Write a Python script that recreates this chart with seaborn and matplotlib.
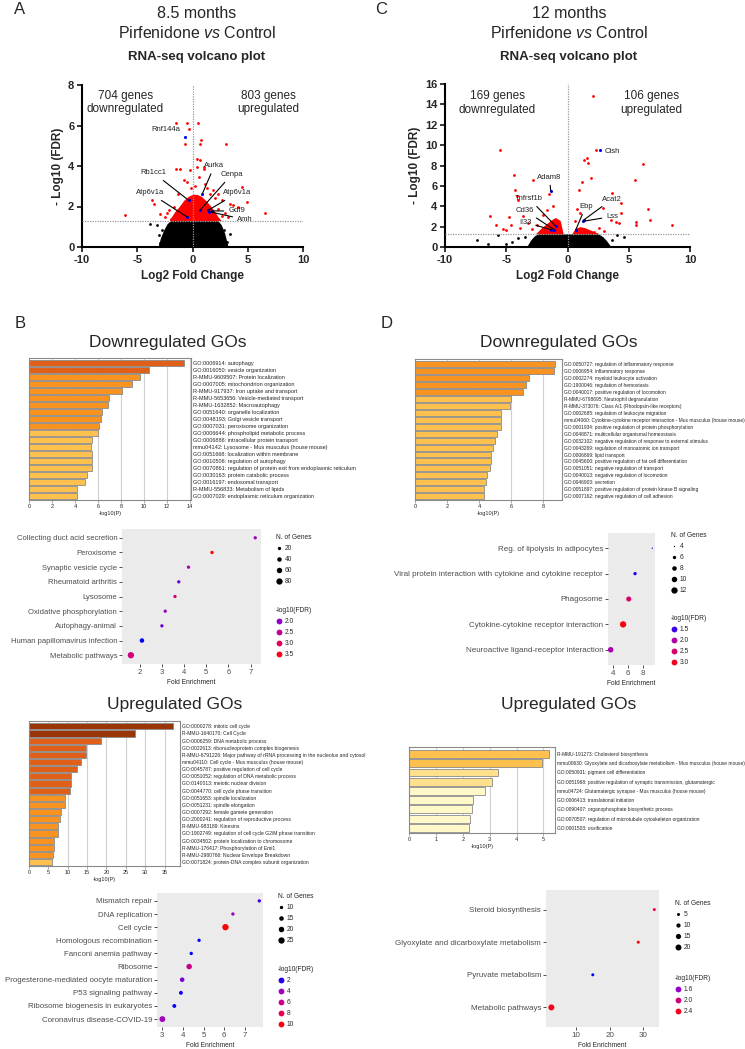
import numpy as np
import pandas as pd
import seaborn as sns
import matplotlib.pyplot as plt
from matplotlib.colors import LinearSegmentedColormap, Normalize
from matplotlib.lines import Line2D

# ---------------- data ----------------
# Panel A volcano (8.5 months)
cloudA_x = [-3.1, -2.9, -2.6, -2.3, -2.0, 2.3, 2.6, 2.9, 3.2]
cloudA_top = [0.05, 0.45, 0.85, 1.15, 1.3, 1.3, 1.1, 0.7, 0.05]
redzA_x = [-2.1, -1.9, -1.6, -1.2, -0.8, -0.4, 0.0, 0.4, 0.8, 1.2, 1.6, 2.0, 2.3, 2.6]
redzA_top = [1.3, 1.5, 1.75, 2.0, 2.3, 2.5, 2.6, 2.6, 2.5, 2.3, 2.05, 1.75, 1.5, 1.3]
redA_x = [-1.5, -0.5, 0.54, -0.36, -0.66, 0.78, 0.7, 3.04, 0.4, 0.7, 0.4, 1.05, -1.5, -1.1,
          -0.27, 1.05, 0.63, -0.8, -0.5, 4.45, 4.9, 3.7, 2.35, 1.9, 2.65, 3.4, 4.15, 6.55,
          -6.13, -3.67, -3.46, -2.92, -2.17, -1.71, -1.95, 1.3, 1.6, 2.0, 2.9, 3.2, -2.5,
          -2.3, -1.3, 1.1, 0.2, -0.1, 2.3, 2.7]
redA_y = [6.1, 6.1, 6.1, 5.83, 5.1, 5.3, 5.1, 5.1, 4.37, 4.3, 3.96, 3.96, 3.85, 3.85,
          3.8, 3.85, 3.47, 3.3, 3.2, 2.97, 2.23, 2.06, 2.64, 2.8, 2.31, 2.1, 1.98, 1.68,
          1.57, 2.31, 2.11, 1.65, 1.82, 1.98, 1.4, 2.9, 2.6, 2.4, 1.7, 1.5, 1.5,
          1.7, 2.6, 3.1, 3.0, 2.9, 1.9, 1.55]
blackA_x = [-3.82, -3.2, -2.77, -2.77, -2.9, 2.86, 3.4, 2.5, 3.1, -3.0]
blackA_y = [1.16, 1.07, 0.83, 0.41, 0.2, 0.83, 0.66, 0.33, 0.25, 0.6]
genesA = ["Rnf144a", "Rb1cc1", "Atp6v1a", "Aurka", "Cenpa", "Atp6v1a", "Gdf9", "Amh"]
genesA_fc = [-0.66, -0.36, -0.5, 0.9, 0.69, 1.44, 1.74, 1.5]
genesA_fdr = [5.45, 2.31, 1.49, 2.64, 1.82, 1.82, 1.78, 1.75]
countsA = ["704 genes\ndownregulated", "803 genes\nupregulated"]

# Panel C volcano (12 months)
cloudC_x = [-3.3, -3.0, -2.7, -2.4, 2.5, 2.9, 3.2, 3.5]
cloudC_top = [0.1, 0.7, 1.1, 1.3, 1.3, 1.0, 0.6, 0.1]
redzC_x = [-2.6, -2.2, -1.8, -1.4, -1.0, -0.6, -0.35, 0.35, 0.6, 1.0, 1.4, 1.8, 2.2, 2.6]
redzC_top = [1.3, 1.8, 2.2, 2.6, 2.9, 2.6, 1.3, 1.3, 1.8, 2.0, 1.9, 1.7, 1.5, 1.3]
redC_x = [2.12, -5.48, 2.3, 1.57, 1.36, 1.68, 6.19, -4.34, -2.8, 1.9, 1.17, 5.48, -1.47,
          -4.28, 0.92, 3.64, 4.34, -4.14, -4.07, 2.9, 6.6, 4.34, -6.32, -4.78, -3.66, 6.73,
          5.62, 5.62, 8.55, -5.83, -5.29, 3.53, 3.93, 4.2, -3.2, -2.9, -3.9, -2.5, -2.0,
          -1.7, -1.2, 0.8, 1.0, 2.6, 3.0, -5.0, -4.6, 0.6, 2.2]
redC_y = [14.87, 9.48, 9.48, 8.73, 8.56, 8.24, 8.14, 7.09, 6.6, 6.76, 6.34, 6.6, 5.23,
          5.56, 5.62, 5.29, 4.31, 4.97, 4.58, 3.82, 3.73, 3.33, 3.07, 2.94, 3.0, 2.61,
          2.42, 2.19, 2.12, 2.19, 1.76, 2.68, 2.42, 2.35, 2.4, 1.8, 1.9, 2.2, 3.1,
          3.6, 4.0, 3.7, 3.3, 1.9, 1.6, 1.7, 2.2, 2.6, 1.5]
blackC_x = [-7.38, -6.51, -5.7, -4.07, -4.5, 4.07, 4.61, 3.26, -3.5, 3.6, -5.0]
blackC_y = [0.72, 0.33, 1.21, 0.88, 0.5, 1.21, 0.95, 0.23, 1.0, 0.7, 0.3]
genesC = ["Cish", "Adam8", "Tnfrsf1b", "Cd36", "Il33", "Ebp", "Acat2", "Lss"]
genesC_fc = [2.63, -1.36, -0.95, -1.09, -1.36, 0.68, 1.36, 1.25]
genesC_fdr = [9.48, 5.46, 2.03, 1.7, 1.7, 1.7, 2.68, 2.52]
countsC = ["169 genes\ndownregulated", "106 genes\nupregulated"]

# Panel B bar charts (Metascape)
bd_terms = ["GO:0006914: autophagy", "GO:0016050: vesicle organization",
            "R-MMU-9609507: Protein localization", "GO:0007005: mitochondrion organization",
            "R-MMU-917937: Iron uptake and transport", "R-MMU-5653656: Vesicle-mediated transport",
            "R-MMU-1632852: Macroautophagy", "GO:0051640: organelle localization",
            "GO:0048193: Golgi vesicle transport", "GO:0007031: peroxisome organization",
            "GO:0006644: phospholipid metabolic process", "GO:0006886: intracellular protein transport",
            "mmu04142: Lysosome - Mus musculus (house mouse)", "GO:0051668: localization within membrane",
            "GO:0010506: regulation of autophagy",
            "GO:0070861: regulation of protein exit from endoplasmic reticulum",
            "GO:0030163: protein catabolic process", "GO:0016197: endosomal transport",
            "R-MMU-556833: Metabolism of lipids", "GO:0007029: endoplasmic reticulum organization"]
bd_logp = [13.5, 10.46, 9.68, 9.0, 8.06, 7.0, 6.85, 6.36, 6.27, 6.1,
           5.97, 5.5, 5.43, 5.46, 5.46, 5.5, 5.06, 4.86, 4.22, 4.16]

bu_terms = ["GO:0000278: mitotic cell cycle", "R-MMU-1640170: Cell Cycle",
            "GO:0006259: DNA metabolic process", "GO:0022613: ribonucleoprotein complex biogenesis",
            "R-MMU-6791226: Major pathway of rRNA processing in the nucleolus and cytosol",
            "mmu04110: Cell cycle - Mus musculus (house mouse)",
            "GO:0045787: positive regulation of cell cycle", "GO:0051052: regulation of DNA metabolic process",
            "GO:0140013: meiotic nuclear division", "GO:0044770: cell cycle phase transition",
            "GO:0051653: spindle localization", "GO:0051231: spindle elongation",
            "GO:0007292: female gamete generation", "GO:2000241: regulation of reproductive process",
            "R-MMU-983189: Kinesins", "GO:1902749: regulation of cell cycle G2/M phase transition",
            "GO:0034502: protein localization to chromosome", "R-MMU-176417: Phosphorylation of Emi1",
            "R-MMU-2980766: Nuclear Envelope Breakdown",
            "GO:0071824: protein-DNA complex subunit organization"]
bu_logp = [37.2, 27.3, 18.7, 14.8, 14.6, 13.4, 12.4, 10.9, 10.9, 10.6,
           9.4, 9.4, 8.2, 7.9, 7.6, 7.5, 6.5, 6.4, 6.1, 5.9]

# Panel D bar charts
dd_terms = ["GO:0050727: regulation of inflammatory response", "GO:0006954: inflammatory response",
            "GO:0002274: myeloid leukocyte activation", "GO:1900046: regulation of hemostasis",
            "GO:0040017: positive regulation of locomotion", "R-MMU-6798695: Neutrophil degranulation",
            "R-MMU-373076: Class A/1 (Rhodopsin-like receptors)",
            "GO:0002685: regulation of leukocyte migration",
            "mmu04060: Cytokine-cytokine receptor interaction - Mus musculus (house mouse)",
            "GO:0001934: positive regulation of protein phosphorylation",
            "GO:0048871: multicellular organismal homeostasis",
            "GO:0032102: negative regulation of response to external stimulus",
            "GO:0043269: regulation of monoatomic ion transport", "GO:0006869: lipid transport",
            "GO:0045600: positive regulation of fat cell differentiation",
            "GO:0051051: negative regulation of transport", "GO:0040013: negative regulation of locomotion",
            "GO:0046903: secretion", "GO:0051897: positive regulation of protein kinase B signaling",
            "GO:0007162: negative regulation of cell adhesion"]
dd_logp = [8.71, 8.65, 7.1, 6.93, 6.72, 5.98, 5.91, 5.39, 5.39, 5.37,
           5.1, 4.96, 4.85, 4.73, 4.73, 4.67, 4.48, 4.44, 4.3, 4.3]

du_terms = ["R-MMU-191273: Cholesterol biosynthesis",
            "mmu00630: Glyoxylate and dicarboxylate metabolism - Mus musculus (house mouse)",
            "GO:0050931: pigment cell differentiation",
            "GO:0051968: positive regulation of synaptic transmission, glutamatergic",
            "mmu04724: Glutamatergic synapse - Mus musculus (house mouse)",
            "GO:0006413: translational initiation", "GO:0090407: organophosphate biosynthetic process",
            "GO:0070507: regulation of microtubule cytoskeleton organization", "GO:0001503: ossification"]
du_logp = [5.19, 4.96, 3.32, 3.08, 2.82, 2.38, 2.33, 2.26, 2.23]

# KEGG dot plots
kbd_terms = ["Collecting duct acid secretion", "Peroxisome", "Synaptic vesicle cycle",
             "Rheumatoid arthritis", "Lysosome", "Oxidative phosphorylation", "Autophagy-animal",
             "Human papillomavirus infection", "Metabolic pathways"]
kbd_fe = [7.21, 5.26, 4.2, 3.76, 3.59, 3.15, 3.0, 2.1, 1.6]
kbd_n = [6, 18, 13, 12, 16, 14, 14, 40, 90]
kbd_fdr = [2.1, 3.7, 2.2, 1.9, 2.8, 2.1, 1.9, 1.5, 2.75]

kbu_terms = ["Mismatch repair", "DNA replication", "Cell cycle", "Homologous recombination",
             "Fanconi anemia pathway", "Ribosome", "Progesterone-mediated oocyte maturation",
             "P53 signaling pathway", "Ribosome biogenesis in eukaryotes", "Coronavirus disease-COVID-19"]
kbu_fe = [7.7, 6.42, 6.06, 4.78, 4.4, 4.3, 3.96, 3.9, 3.58, 3.0]
kbu_n = [6, 9, 27, 8, 9, 20, 15, 12, 12, 22]
kbu_fdr = [2.5, 3.8, 10.5, 1.6, 1.5, 6.0, 3.3, 1.7, 1.6, 4.0]

kdd_terms = ["Reg. of lipolysis in adipocytes",
             "Viral protein interaction with cytokine and cytokine receptor", "Phagosome",
             "Cytokine-cytokine receptor interaction", "Neuroactive ligand-receptor interaction"]
kdd_fe = [9.3, 6.99, 6.15, 5.39, 3.73]
kdd_n = [4, 6, 9, 13, 10]
kdd_fdr = [1.35, 1.4, 2.5, 3.1, 1.95]

kdu_terms = ["Steroid biosynthesis", "Glyoxylate and dicarboxylate metabolism",
             "Pyruvate metabolism", "Metabolic pathways"]
kdu_fe = [33.4, 28.6, 15.0, 2.6]
kdu_n = [3, 5, 3, 21]
kdu_fdr = [2.3, 2.55, 1.3, 2.45]

# ---------------- style ----------------
sns.set_style("white")
plt.rcParams['font.family'] = ['Liberation Sans', 'DejaVu Sans']
plt.rcParams['mathtext.fontset'] = 'custom'
plt.rcParams['mathtext.rm'] = 'Liberation Sans'
plt.rcParams['mathtext.it'] = 'Liberation Sans:italic'
plt.rcParams['axes.unicode_minus'] = False

W, H = 745, 1049
fig = plt.figure(figsize=(W / 100, H / 100), dpi=100)
fig.patch.set_facecolor('white')

fdr_cmap = LinearSegmentedColormap.from_list(
    "fdr", [(0, 0, 1), (154/255, 0, 195/255), (201/255, 0, 136/255), (231/255, 0, 79/255), (1, 0, 0)])
bar_bins = [3, 4, 6, 10, 20]
bar_shades = ['#FFF8C8', '#FFE08C', '#FFC14E', '#F8931F', '#E0601A', '#9A3508']


def add_ax(x0, y0, x1, y1):
    return fig.add_axes([x0 / W, 1 - y1 / H, (x1 - x0) / W, (y1 - y0) / H])


def ftext(x, y, s, **kw):
    fig.text(x / W, 1 - y / H, s, **kw)


def draw_volcano(ax, cloud_x, cloud_top, redz_x, redz_top, red_x, red_y, blk_x, blk_y,
                 g_fc, g_fdr, ymax):
    ax.fill_between(cloud_x, 0, cloud_top, color='black', lw=0, zorder=1)
    ax.fill_between(redz_x, 1.3, redz_top, color='red', lw=0, zorder=1)
    sns.scatterplot(x=blk_x, y=blk_y, color='black', s=4, linewidth=0, ax=ax, zorder=2)
    sns.scatterplot(x=red_x, y=red_y, color='red', s=4, linewidth=0, ax=ax, zorder=2)
    sns.scatterplot(x=g_fc, y=g_fdr, color='blue', s=5, linewidth=0, ax=ax, zorder=4)
    ax.axhline(1.3, color='#999999', ls=(0, (1, 1)), lw=0.9, zorder=3)
    ax.axvline(0, color='#999999', ls=(0, (1, 1)), lw=0.9, zorder=3)
    ax.set_xlim(-10, 10)
    ax.set_ylim(0, ymax)
    ax.set_xticks([-10, -5, 0, 5, 10])
    ax.set_yticks(np.arange(0, ymax + 1, 2))
    sns.despine(ax=ax)
    for sp in ['left', 'bottom']:
        ax.spines[sp].set_linewidth(1.5)
        ax.spines[sp].set_color('black')
    ax.tick_params(direction='out', length=3.5, width=1.3, labelsize=8, pad=2,
                   left=True, bottom=True)
    for lab in ax.get_xticklabels() + ax.get_yticklabels():
        lab.set_fontweight('bold')
    ax.set_xlabel('Log2 Fold Change', fontsize=8.5, fontweight='bold', labelpad=4)
    ax.set_ylabel('- Log10 (FDR)', fontsize=8.5, fontweight='bold', labelpad=3)


def label_gene(ax, name, pt, txt, line=True):
    ax.annotate(name, xy=pt, xytext=txt, fontsize=5.5, ha='center', va='center', color='#222222',
                arrowprops=dict(arrowstyle='-', color='black', lw=0.8, shrinkA=1, shrinkB=0)
                if line else None, zorder=5)


def draw_bars(ax, terms, logp, xmax, xticks, fs):
    colors = [bar_shades[np.searchsorted(bar_bins, v, side='right')] for v in logp]
    sns.barplot(x=logp, y=terms, hue=terms, palette=dict(zip(terms, colors)), legend=False,
                orient='h', width=0.85, saturation=1, edgecolor='#8a8a8a', linewidth=0.6,
                ax=ax, zorder=2)
    ax.set_xlim(0, xmax)
    ax.set_xticks(xticks)
    ax.set_ylim(len(terms) - 0.45, -0.75)
    ax.yaxis.tick_right()
    ax.tick_params(axis='y', length=0, labelsize=fs, pad=1.5)
    ax.tick_params(axis='x', length=2, labelsize=4, width=0.5, color='#888888', pad=1, bottom=True)
    ax.grid(axis='x', color='#d0d0d0', lw=0.8)
    ax.set_axisbelow(True)
    for sp in ax.spines.values():
        sp.set_color('#8a8a8a')
        sp.set_linewidth(0.8)
    ax.set_ylabel('')
    ax.set_xlabel('-log10(P)', fontsize=4, labelpad=1.5)


def draw_dots(ax, terms, fe, ngenes, fdr, fdr_norm, size_norm, sizes, xlim, xticks, fs):
    df = pd.DataFrame({'term': terms, 'fe': fe, 'n': ngenes, 'fdr': fdr})
    sns.scatterplot(data=df, x='fe', y='term', hue='fdr', size='n', palette=fdr_cmap,
                    hue_norm=fdr_norm, sizes=sizes, size_norm=size_norm, legend=False,
                    linewidth=0, ax=ax, zorder=3)
    ax.set_facecolor('#EBEBEB')
    ax.set_xlim(*xlim)
    ax.set_xticks(xticks)
    ax.set_ylim(len(terms) - 0.4, -0.6)
    for sp in ax.spines.values():
        sp.set_visible(False)
    ax.tick_params(length=2, width=0.6, color='#333333', labelsize=fs, labelcolor='#4D4D4D',
                   pad=1.5, left=True, bottom=True)
    ax.set_ylabel('')
    ax.set_xlabel('Fold Enrichment', fontsize=4.8, labelpad=2)


def dot_legends(ax, n_vals, f_vals, fdr_norm, size_norm, sizes, x, y_size, y_col):
    def s_of(n):
        return sizes[0] + (n - size_norm[0]) / (size_norm[1] - size_norm[0]) * (sizes[1] - sizes[0])
    nh = [Line2D([], [], ls='', marker='o', color='black', markeredgewidth=0,
                 markersize=np.sqrt(max(s_of(n), 0.5))) for n in n_vals]
    norm = Normalize(*fdr_norm)
    ch = [Line2D([], [], ls='', marker='o', color=fdr_cmap(norm(v)), markeredgewidth=0,
                 markersize=4.2) for v in f_vals]
    common = dict(loc='upper left', bbox_transform=fig.transFigure, frameon=False, fontsize=4.8,
                  title_fontsize=4.8, handlelength=0.8, handletextpad=0.5, labelspacing=0.6,
                  borderaxespad=0, borderpad=0)
    leg1 = ax.legend(nh, [str(n) for n in n_vals], title='N. of Genes',
                     bbox_to_anchor=(x / W, 1 - y_size / H), **common)
    leg1._legend_box.align = 'left'
    ax.add_artist(leg1)
    leg2 = ax.legend(ch, [str(v) for v in f_vals], title='-log10(FDR)',
                     bbox_to_anchor=(x / W, 1 - y_col / H), **common)
    leg2._legend_box.align = 'left'


# ---------------- panel A ----------------
axA = add_ax(82, 85, 303, 247)
draw_volcano(axA, cloudA_x, cloudA_top, redzA_x, redzA_top, redA_x, redA_y, blackA_x, blackA_y,
             genesA_fc, genesA_fdr, 8)
txtA = [(-2.4, 5.78), (-3.52, 3.66), (-3.88, 2.67), (1.98, 4.01), (3.55, 3.58), (4.06, 2.67),
        (4.0, 1.78), (4.75, 1.35)]
for i, g in enumerate(genesA):
    label_gene(axA, g, (genesA_fc[i], genesA_fdr[i]), txtA[i], line=(i != 0))
axA.text(-6.1, 7.15, countsA[0], ha='center', va='center', fontsize=8.5, linespacing=1.15)
axA.text(6.85, 7.15, countsA[1], ha='center', va='center', fontsize=8.5, linespacing=1.15)

# ---------------- panel C ----------------
axC = add_ax(445, 84, 690, 247)
draw_volcano(axC, cloudC_x, cloudC_top, redzC_x, redzC_top, redC_x, redC_y, blackC_x, blackC_y,
             genesC_fc, genesC_fdr, 16)
txtC = [(3.66, 9.35), (-1.49, 6.86), (-3.12, 4.74), (-3.47, 3.59), (-3.47, 2.45), (1.49, 3.99),
        (3.66, 4.71), (3.66, 3.0)]
for i, g in enumerate(genesC):
    label_gene(axC, g, (genesC_fc[i], genesC_fdr[i]), txtC[i], line=(i != 0))
axC.text(-5.75, 14.15, countsC[0], ha='center', va='center', fontsize=8.5, linespacing=1.15)
axC.text(6.87, 14.15, countsC[1], ha='center', va='center', fontsize=8.5, linespacing=1.15)

# titles
for cx, months in [(197, '8.5 months'), (569, '12 months')]:
    ftext(cx, 14, months, ha='center', va='center', fontsize=11.5)
    ftext(cx, 33, r'Pirfenidone $\it{vs}$ Control', ha='center', va='center', fontsize=11.5)
    ftext(cx, 57, 'RNA-seq volcano plot', ha='center', va='center', fontsize=9.5, fontweight='bold')

# ---------------- panel B ----------------
ax = add_ax(29, 358, 191, 500)
draw_bars(ax, bd_terms, bd_logp, 14.1, np.arange(0, 15, 2), 3.95)
ax = add_ax(29, 721, 180, 866)
draw_bars(ax, bu_terms, bu_logp, 39, np.arange(0, 36, 5), 3.6)

ax = add_ax(122, 529, 261, 664)
draw_dots(ax, kbd_terms, kbd_fe, kbd_n, kbd_fdr, (1.5, 3.7), (20, 80), (5.7, 20.5),
          (1.2, 7.47), [2, 3, 4, 5, 6, 7], 5.5)
dot_legends(ax, [20, 40, 60, 80], [2.0, 2.5, 3.0, 3.5], (1.5, 3.7), (20, 80), (5.7, 20.5),
            276, 534, 607)

ax = add_ax(157, 893, 263, 1027)
draw_dots(ax, kbu_terms, kbu_fe, kbu_n, kbu_fdr, (1.5, 10.5), (10, 25), (5.8, 20.7),
          (2.74, 7.88), [3, 4, 5, 6, 7], 5.7)
dot_legends(ax, [10, 15, 20, 25], [2, 4, 6, 8, 10], (1.5, 10.5), (10, 25), (5.8, 20.7),
            278, 893, 966)

# ---------------- panel D ----------------
ax = add_ax(415, 359, 562, 500)
draw_bars(ax, dd_terms, dd_logp, 9.17, np.arange(0, 9, 2), 3.5)
ax = add_ax(409, 747, 555, 833)
draw_bars(ax, du_terms, du_logp, 5.43, np.arange(0, 6, 1), 3.5)

ax = add_ax(608, 533, 655, 665)
draw_dots(ax, kdd_terms, kdd_fe, kdd_n, kdd_fdr, (1.3, 3.2), (4, 12), (0.9, 20.7),
          (3.37, 9.66), [4, 6, 8], 5.75)
dot_legends(ax, [4, 6, 8, 10, 12], [1.5, 2.0, 2.5, 3.0], (1.3, 3.2), (4, 12), (0.9, 20.7),
            671, 532, 615)

ax = add_ax(546, 890, 659, 1027)
draw_dots(ax, kdu_terms, kdu_fe, kdu_n, kdu_fdr, (1.3, 2.55), (5, 20), (4.7, 18.6),
          (1.0, 34.8), [10, 20, 30], 5.75)
dot_legends(ax, [5, 10, 15, 20], [1.6, 2.0, 2.4], (1.3, 2.55), (5, 20), (4.7, 18.6),
            675, 900, 975)

# section titles and panel letters
ftext(168, 342, 'Downregulated GOs', ha='center', va='center', fontsize=12.5)
ftext(175, 705, 'Upregulated GOs', ha='center', va='center', fontsize=12.5)
ftext(559, 342, 'Downregulated GOs', ha='center', va='center', fontsize=12.5)
ftext(569, 705, 'Upregulated GOs', ha='center', va='center', fontsize=12.5)
for x, y, letter in [(20, 9, 'A'), (381, 9, 'C'), (20, 323, 'B'), (387, 323, 'D')]:
    ftext(x, y, letter, ha='center', va='center', fontsize=12)

fig.savefig('out.png', dpi=100)
